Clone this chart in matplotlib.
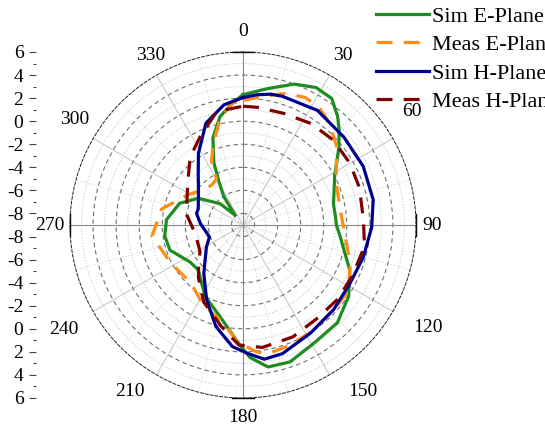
import numpy as np
import matplotlib
matplotlib.use('Agg')
import matplotlib.pyplot as plt

plt.rcParams['font.family'] = 'Liberation Serif'
plt.rcParams['font.size'] = 14

# radiation patterns, angle in degrees (clockwise from top), gain in dB
sim_e_ang = [0, 10, 20, 28, 35, 41, 45, 51, 62, 70, 77, 85, 90, 97, 106, 113, 124, 136, 149, 161,
             170, 177, 182, 194, 208, 225, 235, 251, 262, 274, 289, 301, 313, 321, 326, 331, 335,
             341, 348, 355, 360]
sim_e_val = [2.3, 3.0, 4.0, 4.5, 4.4, 3.5, 2.78, 1.7, 0.0, -0.6, -0.95, -0.95, -0.9, -0.5, 0.22,
             1.06, 2.05, 2.78, 2.95, 3.55, 3.5, 2.5, 1.3, -0.8, -2.0, -3.5, -3.4, -2.3, -2.15,
             -2.35, -3.2, -4.5, -6.3, -7.9, -6.0, -4.7, -3.0, -1.0, 0.6, 1.6, 2.3]

meas_e_ang = [0, 9, 18, 26, 33, 40, 50, 62, 70, 80, 96, 110, 122, 133, 147, 160, 169, 174, 183,
              191, 207, 222, 242, 263, 281, 299, 314, 322, 330, 334, 340, 348, 355, 360]
meas_e_val = [1.8, 2.3, 3.0, 3.3, 3.15, 2.6, 1.6, 0.15, -0.3, -0.47, -0.1, 0.9, 1.8, 1.75, 2.0,
              2.2, 2.37, 2.06, 1.1, -0.3, -1.3, -2.24, -1.93, -1.05, -1.8, -3.56, -4.5, -4.6,
              -4.4, -2.8, -1.46, 0.46, 1.6, 1.8]

sim_h_ang = [0, 6, 12, 17, 33, 49, 64, 79, 91, 105, 119, 133, 148, 163, 171, 178, 185, 195, 206,
             219, 239, 250, 257, 272, 284, 290, 308, 318, 328, 340, 351, 360]
sim_h_val = [2.05, 2.35, 2.6, 2.67, 2.85, 2.6, 2.6, 2.5, 2.16, 1.8, 1.57, 1.75, 2.05, 2.67, 2.78,
             2.14, 1.58, 0.1, -1.8, -3.6, -5.3, -5.9, -5.8, -5.3, -4.85, -4.87, -4.1, -3.2, -1.7,
             0.4, 1.55, 2.05]

meas_h_ang = [0, 7, 20, 34, 47, 60, 72, 87, 100, 115, 128, 141, 156, 171, 182, 192, 207, 220, 229,
              238, 245, 252, 264, 281, 307, 322, 334, 347, 360]
meas_h_val = [1.3, 1.28, 1.3, 1.6, 1.75, 1.7, 1.6, 1.45, 1.7, 1.45, 1.43, 1.34, 1.62, 1.75, 1.41,
              0.0, -1.5, -3.0, -3.9, -4.6, -4.75, -4.8, -4.7, -4.0, -3.0, -1.55, -0.5, 1.1, 1.3]

r_min, r_max = -9, 6
radial_labels = [6, 4, 2, 0, -2, -4, -6, -8]
angle_labels = list(range(0, 360, 30))

W, H = 545, 430
cx, cy, R = 243, 225, 173  # polar centre and radius in pixels
# angle label centres, pixel offsets from the polar centre
angle_label_offsets = [(0, 193), (100, 169), (169, 113), (189, 0), (185, -102), (120, -167),
                       (0, -193), (-113, -167), (-179, -104), (-193, 0), (-168, 106), (-92, 169)]

fig = plt.figure(figsize=(W / 100, H / 100), dpi=100)
ax = fig.add_axes([(cx - R) / W, (H - cy - R) / H, 2 * R / W, 2 * R / H], projection='polar')
ax.set_theta_zero_location('N')
ax.set_theta_direction(-1)
ax.set_ylim(r_min, r_max)

ax.set_yticks(np.arange(-8, 6, 2))
ax.set_yticks(np.arange(-7, 6, 2), minor=True)
ax.set_yticklabels([])
ax.set_xticks(np.deg2rad(angle_labels))
ax.set_xticklabels([])
ax.set_xticks(np.deg2rad(np.arange(15, 360, 30)), minor=True)

ax.grid(which='major', axis='y', color='#707070', ls=(0, (4, 3)), lw=0.8)
ax.grid(which='minor', axis='y', color='#c8c8c8', ls=':', lw=0.8)
ax.grid(which='major', axis='x', color='#c4c4c4', ls='-', lw=0.7)
ax.grid(which='minor', axis='x', color='#d8d8d8', ls=':', lw=0.8)
ax.tick_params(axis='both', which='both', length=0)
for a in [0, 90, 180, 270]:
    ax.axvline(np.deg2rad(a), color='#8a8a8a', lw=0.8)
    ax.plot(np.deg2rad([a - 3.5, a + 3.5]), [r_max, r_max], color='black', lw=1.0, clip_on=False)
ax.spines['polar'].set_linestyle((0, (3, 2)))
ax.spines['polar'].set_linewidth(0.7)
ax.spines['polar'].set_color('#222222')

for a, (dx, dy) in zip(angle_labels, angle_label_offsets):
    fig.text((cx + dx) / W, (H - cy + dy) / H, str(a), ha='center', va='center')

lw = 2.3
ax.plot(np.deg2rad(sim_e_ang), sim_e_val, color='#1e8c1e', lw=lw, label='Sim E-Plane')
ax.plot(np.deg2rad(meas_e_ang), meas_e_val, color='#ff8c14', lw=lw, dashes=(5, 3.5), label='Meas E-Plane')
ax.plot(np.deg2rad(sim_h_ang), sim_h_val, color='#000090', lw=lw, label='Sim H-Plane')
ax.plot(np.deg2rad(meas_h_ang), meas_h_val, color='#800000', lw=lw, dashes=(5, 3.5), label='Meas H-Plane')

fig.legend(loc='upper left', bbox_to_anchor=(376 / W, 1 - 6 / H), frameon=False, fontsize=16,
           handlelength=2.4, handletextpad=0.14, labelspacing=0.36, borderaxespad=0, borderpad=0)

# mirrored dB scale on the left
ax2 = fig.add_axes([36 / W, (H - cy - R) / H, 0.02, 2 * R / H])
ax2.set_ylim(-(r_max - r_min), r_max - r_min)
pos = [d - r_min for d in radial_labels] + [-(d - r_min) for d in radial_labels]
ax2.set_yticks(pos, [str(d) for d in radial_labels] * 2)
minor_vals = range(-7, 6, 2)
ax2.set_yticks([d - r_min for d in minor_vals] + [-(d - r_min) for d in minor_vals], minor=True)
ax2.tick_params(axis='y', which='major', direction='out', length=5, width=0.8, pad=4, color='#444444')
ax2.tick_params(axis='y', which='minor', direction='out', length=2.5, width=0.8, color='#444444')
for s in ax2.spines.values():
    s.set_visible(False)
ax2.set_xticks([])
ax2.patch.set_visible(False)

fig.savefig('out.png', dpi=100)
